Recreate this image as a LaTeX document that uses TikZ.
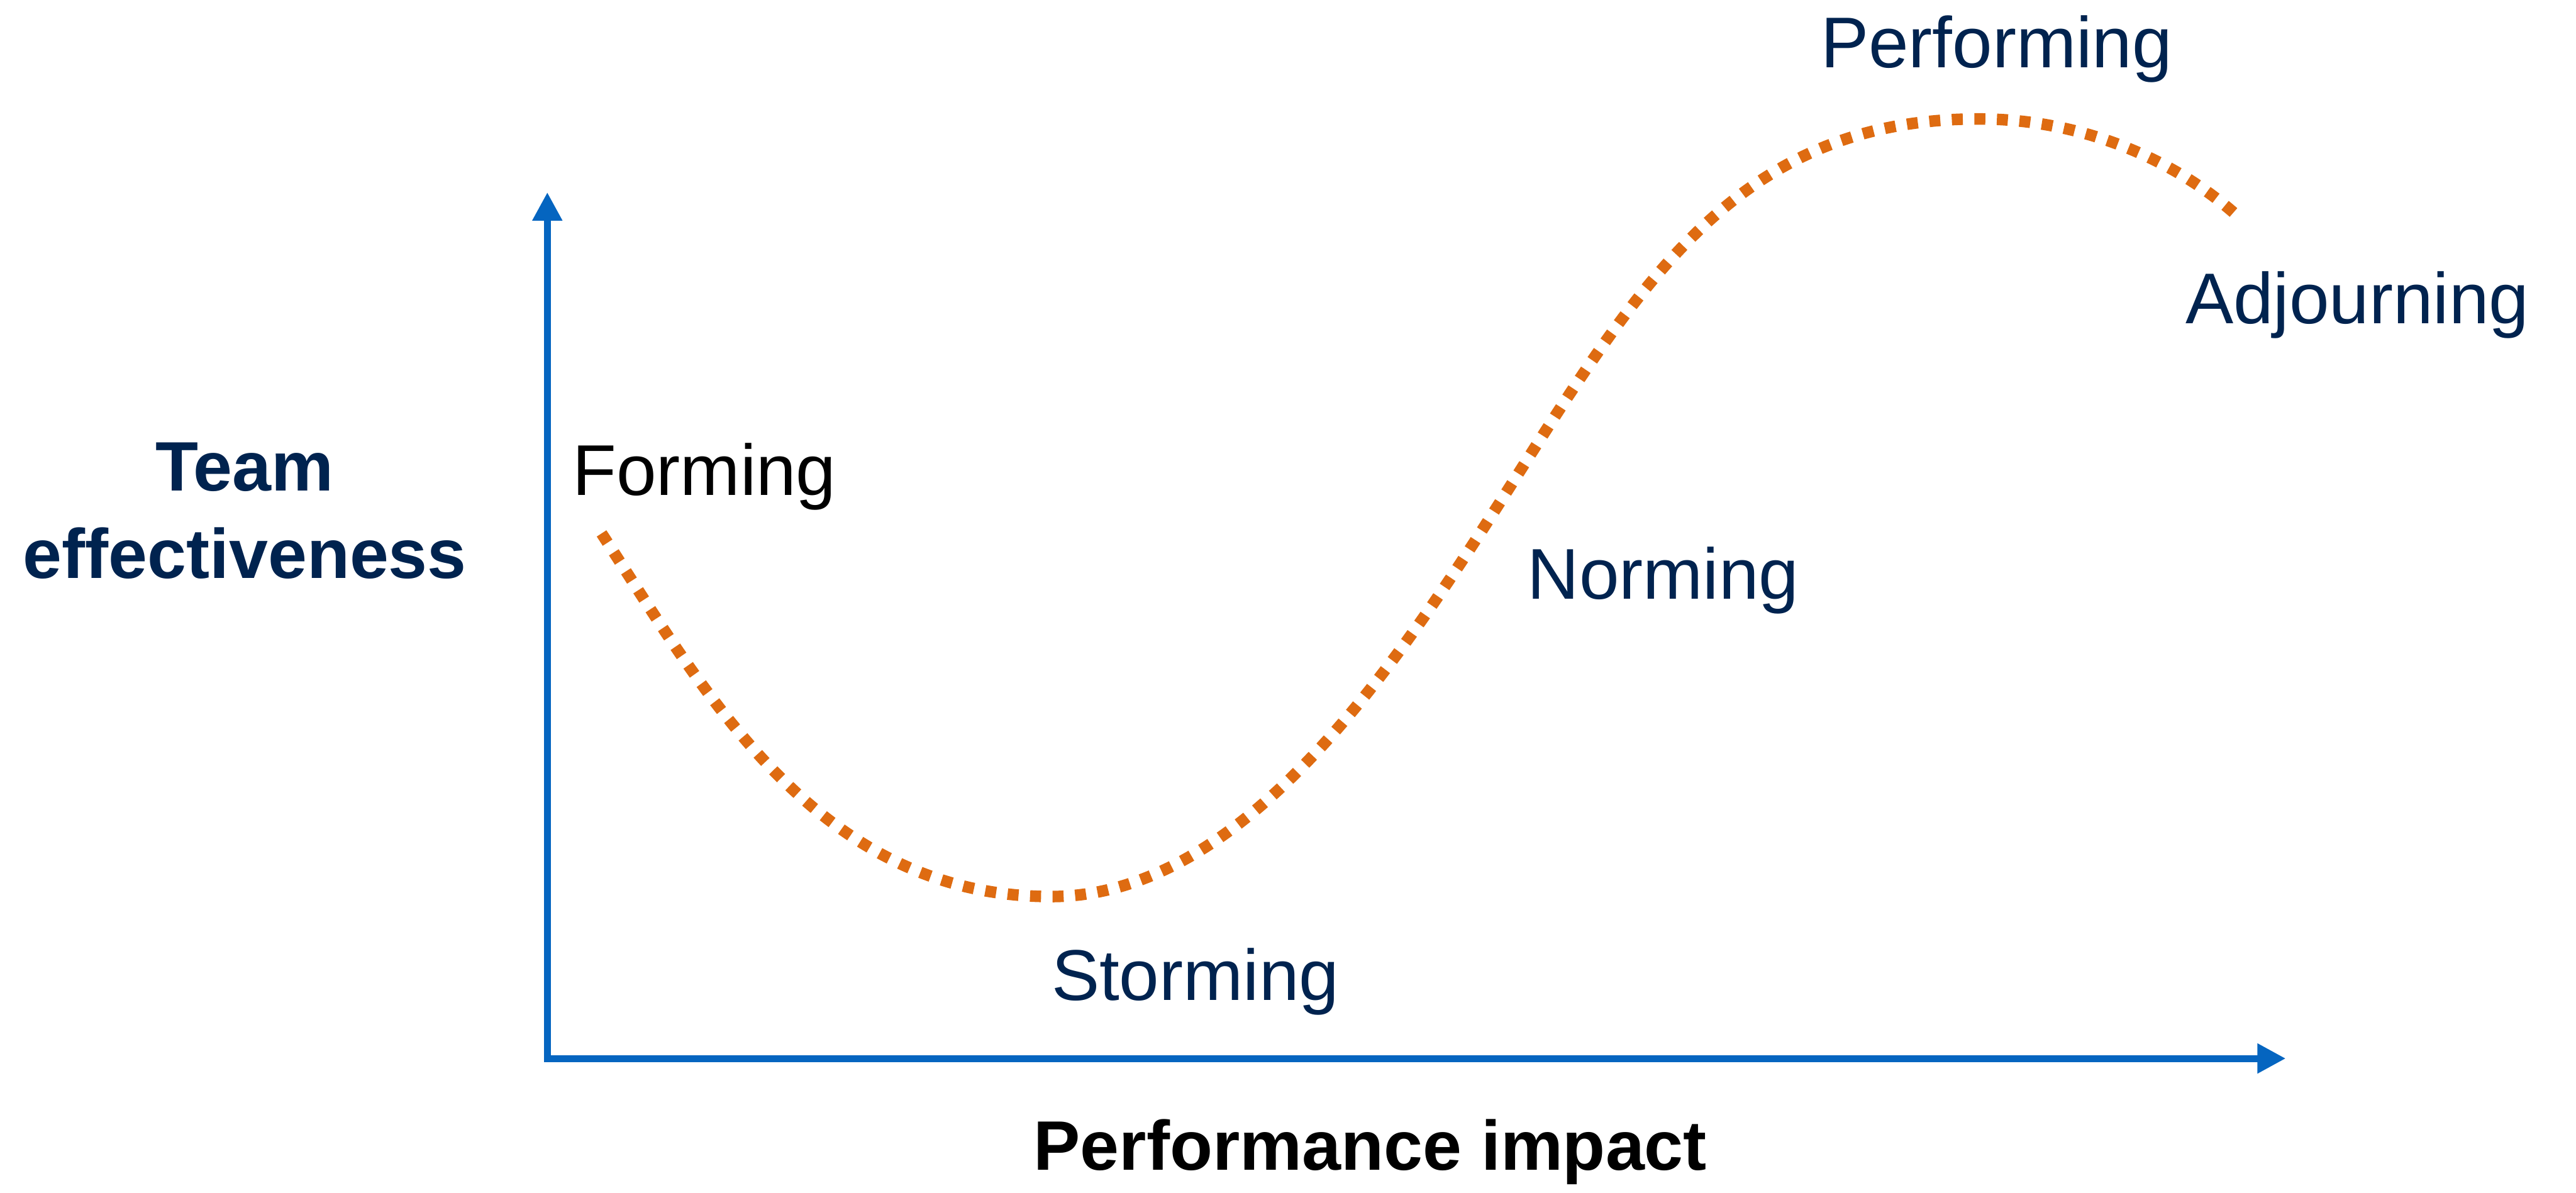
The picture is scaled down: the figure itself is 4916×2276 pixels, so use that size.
\documentclass[tikz,border=0pt]{standalone}
\usepackage{fontspec}
\setmainfont{Liberation Sans}
\usetikzlibrary{arrows.meta}
\definecolor{axisblue}{HTML}{0565C0}
\definecolor{curveorange}{HTML}{DE6B11}
\definecolor{stagenavy}{HTML}{00234F}

\begin{document}
\begin{tikzpicture}[x=0.01cm, y=-0.01cm,
  axis/.style={draw=axisblue, line width=0.13cm, {Triangle[length=0.54cm,width=0.54cm]}-{Triangle[length=0.54cm,width=0.54cm]}},
  stage/.style={anchor=base west, inner sep=0pt, text=stagenavy, font=\fontsize{39}{47}\selectfont},
  axislabel/.style={inner sep=0pt, align=center, font=\fontsize{38}{47.2}\selectfont\bfseries},
  phase/.style={draw=curveorange, line width=0.22cm, dash pattern=on 0.21cm off 0.22cm}]
\useasboundingbox (0,0) rectangle (4916,2276);
\coordinate (ytip) at (1044.5,367);
\coordinate (xtip) at (4362,2020);
\draw[axis] (ytip) |- (xtip);

\coordinate (start) at (1148,1018);
\coordinate (dip) at (2006,1711);
\coordinate (turn) at (2843,989);
\coordinate (peak) at (3776,227);
\coordinate (finish) at (4264,407);
\draw[phase] (start) .. controls (1340,1312) and (1556,1711) .. (dip)
  .. controls (2356,1711) and (2638,1308) .. (turn)
  .. controls (3113,569) and (3296,227) .. (peak)
  .. controls (3976,227) and (4149,306) .. (finish);

\node[stage, text=black] (forming) at (1092,945) {Forming};
\node[stage] (storming) at (2006,1909) {Storming};
\node[stage] (norming) at (2914,1143) {Norming};
\node[stage] (performing) at (3474,129) {Performing};
\node[stage] (adjourning) at (4170,618) {Adjourning};
\node[axislabel, text=stagenavy, anchor=base] (ylabel) at (467,1103) {Team\\effectiveness};
\node[axislabel, anchor=base] (xlabel) at (2615,2233) {Performance impact};
\end{tikzpicture}
\end{document}
